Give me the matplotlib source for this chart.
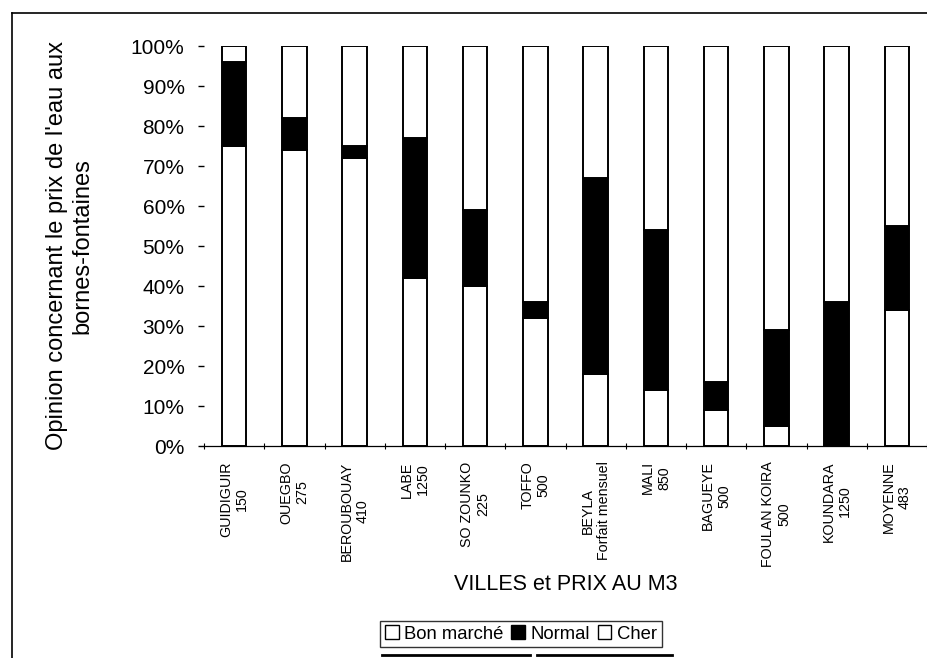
import matplotlib.pyplot as plt
from matplotlib.lines import Line2D
from matplotlib.ticker import FixedLocator, PercentFormatter

plt.rcParams['font.family'] = ['Liberation Sans', 'DejaVu Sans']

villes = ['GUIDIGUIR\n150', 'OUEGBO\n275', 'BEROUBOUAY\n410', 'LABE\n1250',
          'SO ZOUNKO\n225', 'TOFFO\n500', 'BEYLA\nForfait mensuel', 'MALI\n850',
          'BAGUEYE\n500', 'FOULAN KOIRA\n500', 'KOUNDARA\n1250', 'MOYENNE\n483']
bon_marche = [75, 74, 72, 42, 40, 32, 18, 14, 9, 5, 0, 34]
normal = [21, 8, 3, 35, 19, 4, 49, 40, 7, 24, 36, 21]
cher = [4, 18, 25, 23, 41, 64, 33, 46, 84, 71, 64, 45]

fig = plt.figure(figsize=(9.27, 6.58), dpi=100)
ax = fig.add_axes([204 / 927, 1 - 446 / 658, 723 / 927, 400 / 658])

x = range(len(villes))
w = 0.41
ax.bar(x, bon_marche, w, color='white', edgecolor='black', linewidth=1.4, label='Bon marché')
ax.bar(x, normal, w, bottom=bon_marche, color='black', edgecolor='black', linewidth=1.4, label='Normal')
bas = [b + n for b, n in zip(bon_marche, normal)]
ax.bar(x, cher, w, bottom=bas, color='white', edgecolor='black', linewidth=1.4, label='Cher')

ax.set_xlim(-0.5, 11.5)
ax.set_ylim(0, 100)
ax.yaxis.set_major_locator(FixedLocator(range(0, 101, 10)))
ax.yaxis.set_major_formatter(PercentFormatter(decimals=0))
ax.tick_params(axis='y', length=4, width=1, pad=10, labelsize=15)

ax.set_xticks(list(x))
ax.set_xticklabels(villes, rotation=90, fontsize=10.3, ha='center', va='top')
ax.set_xticks([i + 0.5 for i in range(-1, 12)], minor=True)
ax.tick_params(axis='x', which='major', length=0, pad=11)
ax.tick_params(axis='x', which='minor', length=4, width=0.8, direction='inout')

for s in ['top', 'right', 'left']:
    ax.spines[s].set_visible(False)
ax.spines['bottom'].set_linewidth(0.9)

ax.set_xlabel('VILLES et PRIX AU M3', fontsize=15.5, labelpad=5)
ax.set_ylabel("Opinion concernant le prix de l'eau aux\nbornes-fontaines", fontsize=17, labelpad=27)

leg = ax.legend(loc='center', bbox_to_anchor=(521 / 927, 1 - 634 / 658),
                bbox_transform=fig.transFigure, ncol=3, fontsize=13.3,
                frameon=True, fancybox=False, edgecolor='black',
                handlelength=0.75, handleheight=0.75, handletextpad=0.3,
                columnspacing=0.4, borderpad=0.25, borderaxespad=0)
leg.get_frame().set_linewidth(1.0)
for h in leg.legend_handles:
    h.set_linewidth(1.0)

# cadre de la page scannée
fig.add_artist(Line2D([12 / 927, 12 / 927], [0, 1 - 13 / 658], color='black', lw=1.2))
fig.add_artist(Line2D([12 / 927, 1], [1 - 13 / 658, 1 - 13 / 658], color='black', lw=1.2))
fig.add_artist(Line2D([382 / 927, 530 / 927], [1 - 655 / 658] * 2, color='black', lw=2))
fig.add_artist(Line2D([537 / 927, 672 / 927], [1 - 655 / 658] * 2, color='black', lw=2))

fig.savefig('out.png', dpi=100)
